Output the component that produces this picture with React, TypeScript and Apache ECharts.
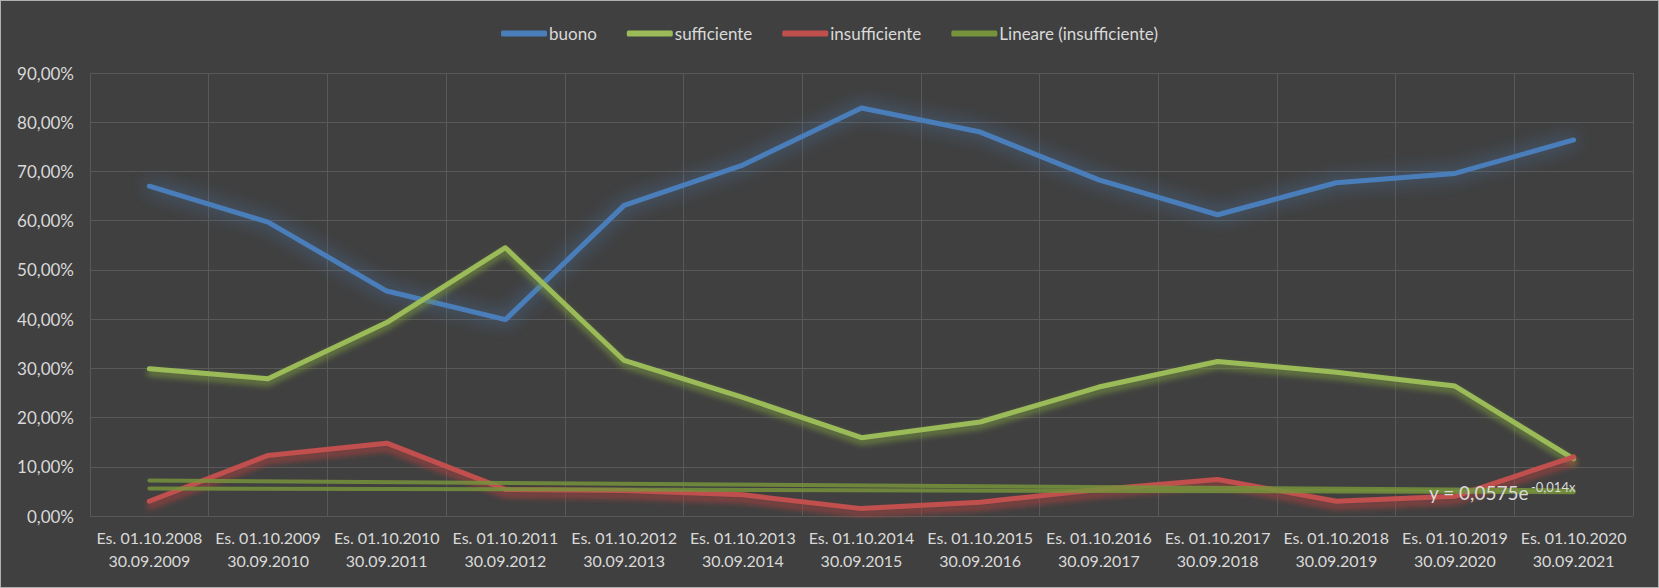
import React, { useEffect, useRef } from "react";
import * as echarts from "echarts";

const categories = [
  "Es. 01.10.2008\n30.09.2009",
  "Es. 01.10.2009\n30.09.2010",
  "Es. 01.10.2010\n30.09.2011",
  "Es. 01.10.2011\n30.09.2012",
  "Es. 01.10.2012\n30.09.2013",
  "Es. 01.10.2013\n30.09.2014",
  "Es. 01.10.2014\n30.09.2015",
  "Es. 01.10.2015\n30.09.2016",
  "Es. 01.10.2016\n30.09.2017",
  "Es. 01.10.2017\n30.09.2018",
  "Es. 01.10.2018\n30.09.2019",
  "Es. 01.10.2019\n30.09.2020",
  "Es. 01.10.2020\n30.09.2021",
];

const buono = [67.0, 59.7, 45.7, 39.9, 63.1, 71.3, 82.9, 78.0, 68.3, 61.2, 67.7, 69.6, 76.4];
const sufficiente = [29.9, 27.9, 39.3, 54.5, 31.6, 24.1, 15.9, 19.1, 26.2, 31.4, 29.2, 26.4, 11.6];
const insufficiente = [3.0, 12.3, 14.8, 5.4, 5.2, 4.3, 1.5, 2.8, 5.4, 7.4, 3.0, 4.0, 12.0];

// trend lines: values read at first and last category
const linearTrend = [7.2, null, null, null, null, null, null, null, null, null, null, null, 5.2];
const expTrend = [5.6, null, null, null, null, null, null, null, null, null, null, null, 4.85];

const yTicks = { min: 0, max: 90, interval: 10 };

const FONT = "Lato, 'Noto Sans', sans-serif";
const TEXT = "#d9d9d9";

export default function App() {
  const ref = useRef<HTMLDivElement>(null);
  useEffect(() => {
    if (!ref.current) return;
    const chart = echarts.init(ref.current, null, { renderer: "svg" });
    chart.setOption({
      animation: false,
      backgroundColor: "#404040",
      textStyle: { fontFamily: FONT, color: TEXT },
      legend: {
        data: ["buono", "sufficiente", "insufficiente", "Lineare (insufficiente)"],
        left: "center",
        top: 19,
        icon: "roundRect",
        itemWidth: 46,
        itemHeight: 6,
        itemGap: 30,
        textStyle: { color: TEXT, fontSize: 17, fontFamily: FONT, padding: [0, 0, 0, -3] },
      },
      grid: { left: 89, right: 25, top: 72, bottom: 71, containLabel: false },
      xAxis: {
        type: "category",
        data: categories,
        boundaryGap: true,
        axisLine: { show: false },
        axisTick: { show: false },
        splitLine: { show: true, lineStyle: { color: "#595959", width: 1 } },
        axisLabel: {
          interval: 0,
          color: TEXT,
          fontSize: 16,
          fontFamily: FONT,
          lineHeight: 23,
          margin: 10,
          align: "center",
        },
      },
      yAxis: {
        type: "value",
        min: yTicks.min,
        max: yTicks.max,
        interval: yTicks.interval,
        axisLine: { show: false },
        axisTick: { show: false },
        splitLine: { show: true, lineStyle: { color: "#595959", width: 1 } },
        axisLabel: {
          color: TEXT,
          fontSize: 17,
          fontFamily: FONT,
          margin: 16,
          formatter: (v: number) => v.toFixed(2).replace(".", ",") + "%",
        },
      },
      series: [
        {
          name: "buono",
          type: "line",
          data: buono,
          symbol: "none",
          color: "#4a7ebb",
          lineStyle: {
            width: 5,
            color: "#4a7ebb",
            cap: "round",
            join: "round",
            shadowColor: "rgba(74,126,187,0.9)",
            shadowBlur: 18,
          },
          z: 3,
        },
        {
          name: "sufficiente",
          type: "line",
          data: sufficiente,
          symbol: "none",
          color: "#9bbb59",
          lineStyle: {
            width: 5,
            color: "#9bbb59",
            cap: "round",
            join: "round",
            shadowColor: "rgba(120,150,60,0.9)",
            shadowBlur: 6,
            shadowOffsetY: 4,
          },
          z: 4,
        },
        {
          name: "insufficiente",
          type: "line",
          data: insufficiente,
          symbol: "none",
          color: "#c0504d",
          lineStyle: {
            width: 5,
            color: "#c0504d",
            cap: "round",
            join: "round",
            shadowColor: "rgba(170,65,62,0.9)",
            shadowBlur: 6,
            shadowOffsetY: 5,
          },
          z: 5,
        },
        {
          name: "Lineare (insufficiente)",
          type: "line",
          data: linearTrend,
          connectNulls: true,
          symbol: "none",
          color: "#77933c",
          lineStyle: { width: 4, color: "#77933c", cap: "round", opacity: 0.85 },
          z: 6,
        },
        {
          name: "Espon. (insufficiente)",
          type: "line",
          data: expTrend,
          connectNulls: true,
          symbol: "none",
          color: "#77933c",
          lineStyle: { width: 4, color: "#77933c", cap: "round", opacity: 0.85 },
          z: 6,
        },
      ],
      graphic: [
        {
          type: "text",
          left: 1428,
          top: 482,
          z: 100,
          style: { text: "y = 0,0575e", fill: TEXT, font: `19px ${FONT}` },
        },
        {
          type: "text",
          left: 1530,
          top: 479,
          z: 100,
          style: { text: "-0,014x", fill: TEXT, font: `13px ${FONT}` },
        },
      ],
    });
    return () => chart.dispose();
  }, []);
  return (
    <div
      style={{
        position: "fixed",
        left: 0,
        top: 0,
        width: 1659,
        height: 588,
        boxSizing: "border-box",
        border: "1px solid #b0b0b0",
        background: "#404040",
      }}
    >
      <div ref={ref} style={{ width: 1657, height: 586 }} />
    </div>
  );
}
